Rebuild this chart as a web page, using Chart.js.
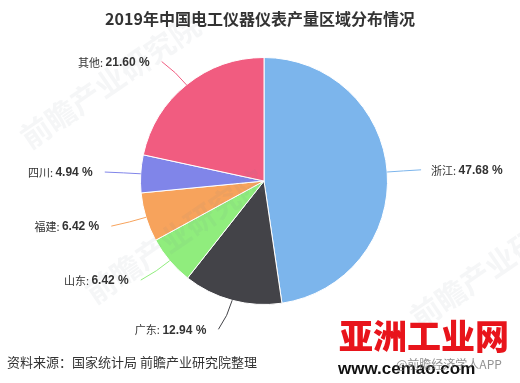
<!DOCTYPE html>
<html><head><meta charset="utf-8">
<script src="https://cdn.jsdelivr.net/npm/chart.js@4/dist/chart.umd.min.js"></script>
<style>html,body{margin:0;padding:0;background:#fff}canvas{display:block}</style>
</head><body>
<canvas id="c" width="520" height="383"></canvas>
<script>
const categories = ["浙江","广东","山东","福建","四川","其他"];
const values = [47.68, 12.94, 6.42, 6.42, 4.94, 21.60];
const colors = ["#7cb5ec","#434348","#90ed7d","#f7a35c","#8085e9","#f15c80"];
const titleText = "2019年中国电工仪器仪表产量区域分布情况";
const sourceText = "资料来源：国家统计局 前瞻产业研究院整理";

const CJK = '"Noto Sans CJK SC"';
const LAT = '"Liberation Sans"';

const labelPlugin = {
  id: 'labels',
  afterDraw(chart) {
    const ctx = chart.ctx;
    const meta = chart.getDatasetMeta(0);
    ctx.save();
    // watermarks (faint)
    ctx.fillStyle = 'rgba(120,130,140,0.07)';
    ctx.font = 'bold 30px ' + CJK;
    [[30,150],[95,305],[420,330]].forEach(p => {
      ctx.save(); ctx.translate(p[0], p[1]); ctx.rotate(-0.6);
      ctx.fillText('前瞻产业研究院', 0, 0); ctx.restore();
    });
    // title
    ctx.fillStyle = '#333';
    ctx.font = 'bold 16px ' + CJK;
    ctx.textAlign = 'center'; ctx.textBaseline = 'middle';
    ctx.fillText(titleText, 260, 19);
    // labels
    const d = 30;
    meta.data.forEach((arc, i) => {
      const p = arc.getProps(['x','y','startAngle','endAngle','outerRadius'], true);
      const mid = (p.startAngle + p.endAngle) / 2;
      const cx = p.x, cy = p.y, r = p.outerRadius, R = r + d;
      const dx = Math.cos(mid), dy = Math.sin(mid);
      const ly = cy + R * dy;
      const right = dx >= 0;
      const ax = cx + (right ? 1 : -1) * Math.sqrt(Math.max(0, R*R - (ly-cy)*(ly-cy)));
      const sx = cx + r * dx, sy = cy + r * dy;
      const ex = ax + (right ? 4 : -6);
      ctx.strokeStyle = colors[i];
      ctx.lineWidth = 1;
      ctx.beginPath();
      ctx.moveTo(sx, sy);
      ctx.quadraticCurveTo(cx + (r + 16) * dx, cy + (r + 16) * dy, ex, ly);
      ctx.stroke();
      const name = categories[i] + ': ';
      const val = values[i].toFixed(2) + ' %';
      ctx.textBaseline = 'middle';
      ctx.textAlign = 'left';
      ctx.fillStyle = '#333';
      const f1 = '11px ' + CJK;
      const f2 = 'bold 12px ' + LAT;
      ctx.font = f1; const w1 = ctx.measureText(name).width;
      ctx.font = f2; const w2 = ctx.measureText(val).width;
      let x0 = right ? ax + 14 : ax - 18 - w1 - w2;
      ctx.font = f1; ctx.fillText(name, x0, ly + 1);
      ctx.font = f2; ctx.fillText(val, x0 + w1, ly + 1);
    });
    // footer
    ctx.textAlign = 'left'; ctx.textBaseline = 'middle';
    ctx.fillStyle = '#333';
    ctx.font = '13px ' + CJK;
    ctx.fillText(sourceText, 7, 362);
    // logo
    ctx.fillStyle = '#e8141b';
    ctx.font = '900 34px ' + CJK;
    ctx.textAlign = 'left';
    ctx.fillText('亚洲工业网', 339, 336);
    ctx.fillStyle = '#111';
    ctx.font = 'bold 17px ' + LAT;
    ctx.fillText('www.cemao.com', 338, 369);
    ctx.fillStyle = 'rgba(110,110,110,0.75)';
    ctx.font = '12px ' + CJK;
    ctx.fillText('@前瞻经济学人APP', 396, 364);
    ctx.restore();
  }
};

new Chart(document.getElementById('c'), {
  type: 'pie',
  data: {
    labels: categories,
    datasets: [{ data: values, backgroundColor: colors, borderColor: '#fff', borderWidth: 1 }]
  },
  options: {
    responsive: false,
    animation: false,
    layout: { padding: { left: 140, right: 132, top: 57, bottom: 78 } },
    plugins: { legend: { display: false }, tooltip: { enabled: false }, title: { display: false } }
  },
  plugins: [labelPlugin]
});
</script>
</body></html>
